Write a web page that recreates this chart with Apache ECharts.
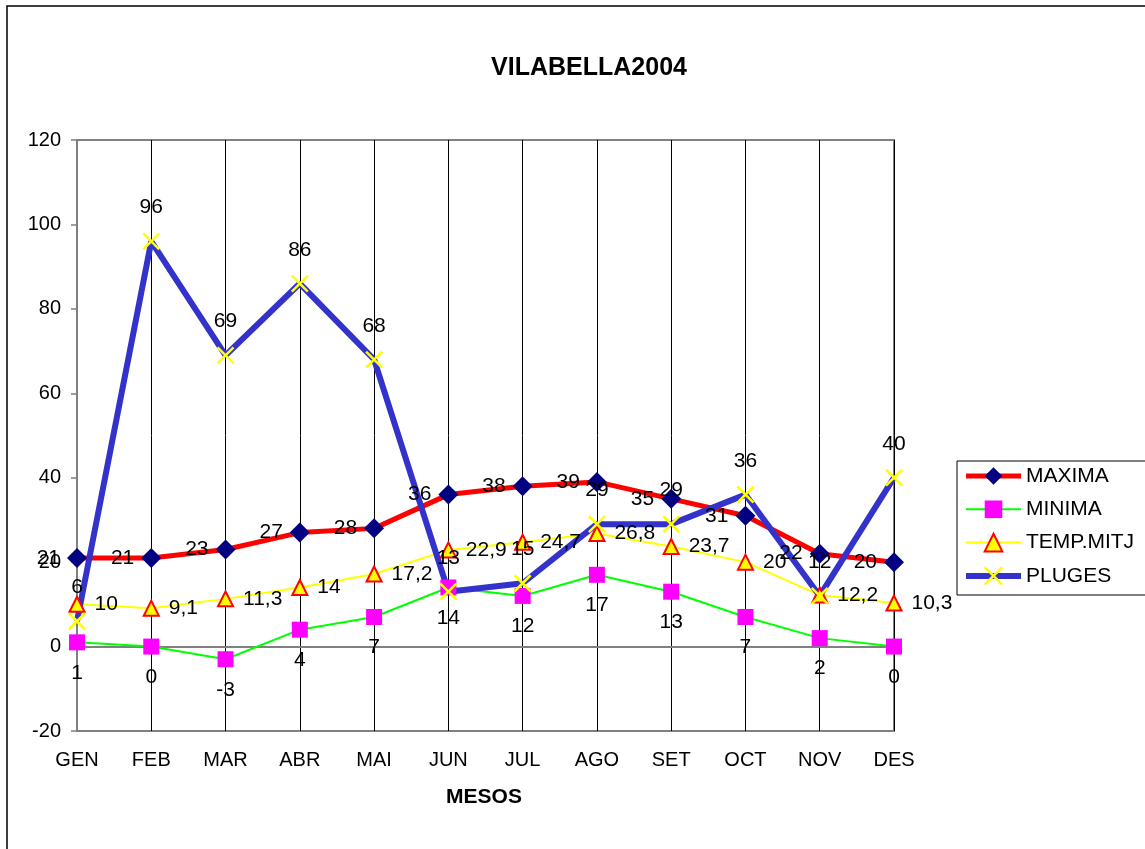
<!DOCTYPE html>
<html><head><meta charset="utf-8">
<script src="https://cdn.jsdelivr.net/npm/echarts@6/dist/echarts.min.js"></script>
<style>html,body{margin:0;padding:0;background:#fff}#c{width:1145px;height:849px}</style>
</head><body><div id="c"></div>
<script>
const months = ['GEN','FEB','MAR','ABR','MAI','JUN','JUL','AGO','SET','OCT','NOV','DES'];
const maxima = [21,21,23,27,28,36,38,39,35,31,22,20];
const minima = [1,0,-3,4,7,14,12,17,13,7,2,0];
const tempMitj = [10,9.1,11.3,14,17.2,22.9,24.7,26.8,23.7,20,12.2,10.3];
const pluges = [6,96,69,86,68,13,15,29,29,36,12,40];
const yTicks = {min:-20, max:120, interval:20};

const FONT = "'Liberation Sans', Arial, sans-serif";
const fmt = p => String(p.value).replace('.', ',');
const lbl = (pos, dist) => ({show:true, position:pos, distance:dist, color:'#000', fontSize:21, fontFamily:FONT, formatter:fmt});
const XSYM = 'path://M0,0L10,10M10,0L0,10';

const chart = echarts.init(document.getElementById('c'), null, {renderer:'canvas'});
chart.setOption({
  backgroundColor:'#fff',
  animation:false,
  textStyle:{fontFamily:FONT},
  title:{text:'VILABELLA2004', left:584, top:51, textAlign:'center',
    textStyle:{fontSize:25, fontWeight:'bold', color:'#000', fontFamily:FONT}},
  graphic:[
    {type:'rect', shape:{x:7, y:6, width:1300, height:1000}, style:{fill:'none', stroke:'#000', lineWidth:1.5}, silent:true, z:-1},
    {type:'rect', shape:{x:957, y:461, width:300, height:134}, style:{fill:'#fff', stroke:'#000', lineWidth:1}, silent:true, z:-1},
    {type:'text', x:484, y:797, style:{text:'MESOS', font:"bold 21px "+FONT, fill:'#000', textAlign:'center', textVerticalAlign:'middle'}}
  ],
  legend:{
    orient:'vertical', left:963, top:465, padding:0, itemGap:11.3,
    itemWidth:55, itemHeight:22,
    textStyle:{fontSize:21, color:'#000', fontFamily:FONT, lineHeight:22},
    data:[
      {name:'MAXIMA', lineStyle:{width:5, color:'#FF0000'}},
      {name:'MINIMA', lineStyle:{width:2, color:'#00FF00'}},
      {name:'TEMP.MITJ', lineStyle:{width:2, color:'#FFFF00'}},
      {name:'PLUGES', lineStyle:{width:6, color:'#3333CC'}, itemStyle:{borderColor:'#FFFF00', borderWidth:2.5}}
    ]
  },
  grid:{left:77, top:140, right:251, bottom:118, show:true, borderColor:'#808080', borderWidth:2, backgroundColor:'transparent', containLabel:false},
  xAxis:[
    {type:'category', data:months, boundaryGap:false, position:'bottom',
     axisLine:{show:false, onZero:false}, axisTick:{show:false},
     axisLabel:{fontSize:20, color:'#000', margin:19, fontFamily:FONT, interval:0},
     splitLine:{show:true, interval:0, lineStyle:{color:'#000', width:1}}},
    {type:'category', data:months, boundaryGap:false, position:'bottom',
     axisLine:{show:true, onZero:true, lineStyle:{color:'#808080', width:2}},
     axisTick:{show:false}, axisLabel:{show:false}, splitLine:{show:false}}
  ],
  yAxis:{type:'value', min:yTicks.min, max:yTicks.max, interval:yTicks.interval,
    axisLine:{show:true, lineStyle:{color:'#808080', width:2}},
    axisTick:{show:true, length:6, lineStyle:{color:'#808080', width:1.5}},
    axisLabel:{fontSize:20, color:'#000', margin:16, fontFamily:FONT},
    splitLine:{show:false}},
  series:[
    {name:'MAXIMA', type:'line', data:maxima, symbol:'diamond', symbolSize:20,
     lineStyle:{color:'#FF0000', width:5}, itemStyle:{color:'#000080'},
     label:lbl('left', 7)},
    {name:'MINIMA', type:'line', data:minima, symbol:'rect', symbolSize:16,
     lineStyle:{color:'#00FF00', width:2}, itemStyle:{color:'#FF00FF'},
     label:lbl('bottom', 12)},
    {name:'TEMP.MITJ', type:'line', data:tempMitj, symbol:'triangle', symbolSize:15,
     lineStyle:{color:'#FFFF00', width:2}, itemStyle:{color:'#FFFF00', borderColor:'#FF0000', borderWidth:2},
     label:lbl('right', 9)},
    {name:'PLUGES', type:'line', data:pluges, symbol:XSYM, symbolSize:16,
     lineStyle:{color:'#3333CC', width:6}, itemStyle:{color:'#FFFF00', borderColor:'#FFFF00', borderWidth:2.5},
     label:lbl('top', 14)}
  ]
});
</script>
</body></html>
